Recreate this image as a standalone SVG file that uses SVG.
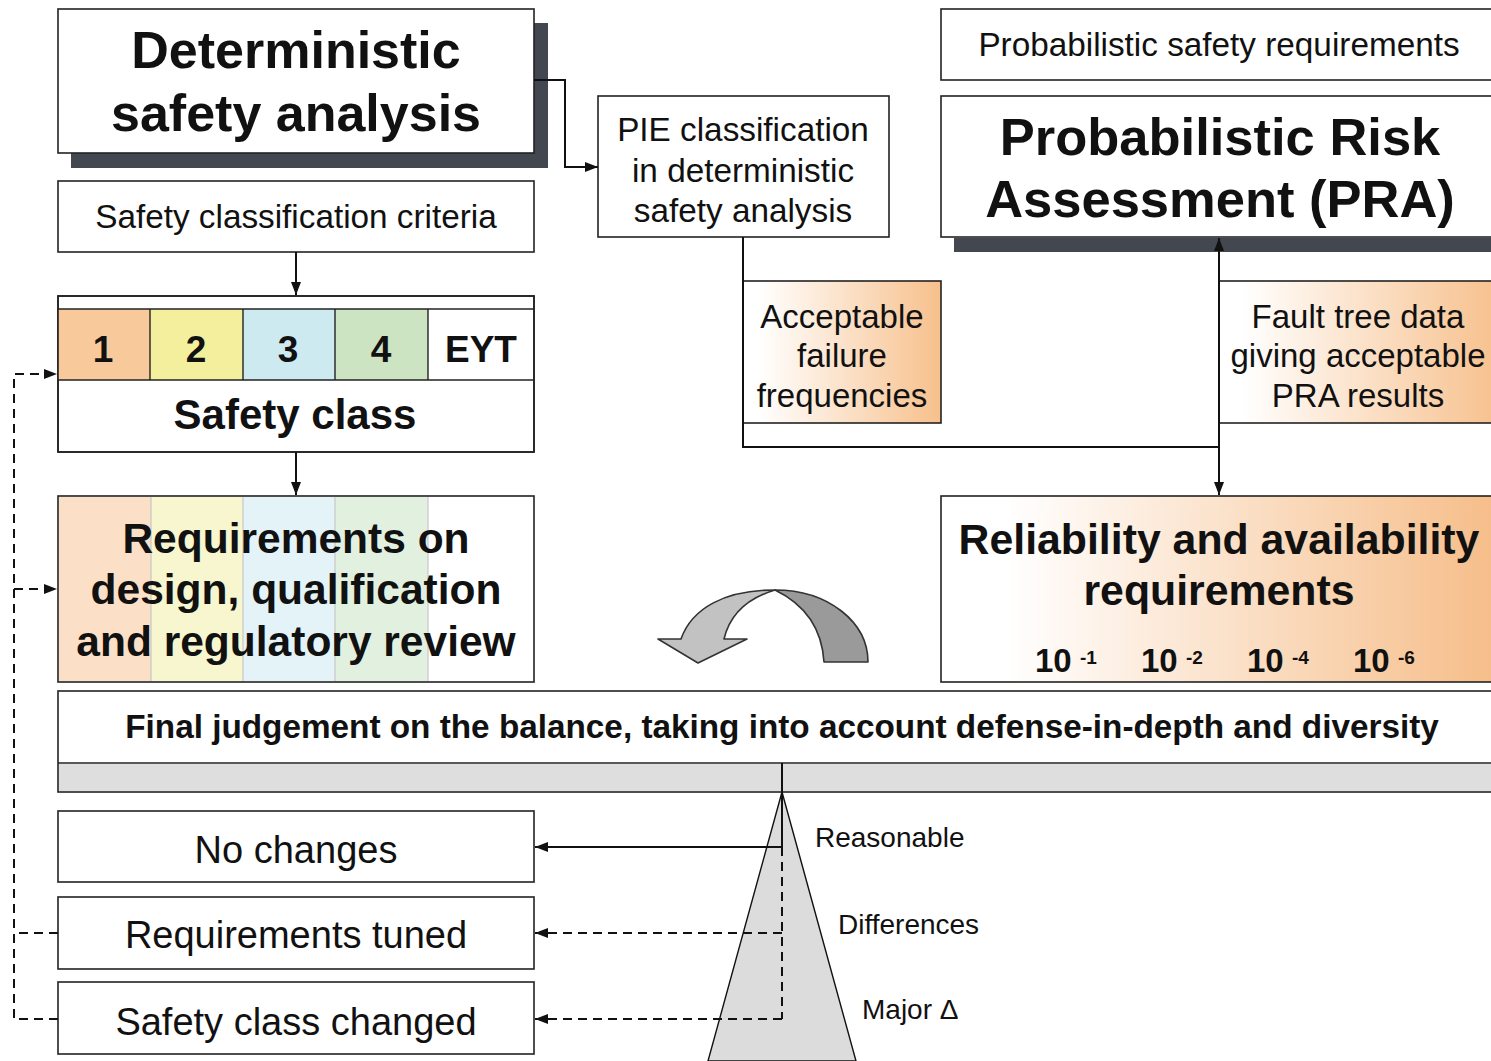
<svg xmlns="http://www.w3.org/2000/svg" width="1491" height="1061" viewBox="0 0 1491 1061">
<defs>
<style>
.box{fill:#fff;stroke:#222;stroke-width:1.6}
.gbox{stroke:#222;stroke-width:1.6}
.t{font-family:"Liberation Sans",Arial,sans-serif;fill:#111;text-anchor:middle}
.s{text-anchor:start}
.b{font-weight:bold}
.ln{fill:none;stroke:#111;stroke-width:2}
.dash{stroke-dasharray:9,6}
.shadow{fill:#434850}
.sep{stroke:#222;stroke-width:1.4}
.lsep{stroke:#c8c8c8;stroke-width:1.2}
</style>
<linearGradient id="gOr" x1="0" y1="0" x2="1" y2="0">
<stop offset="0" stop-color="#ffffff"/><stop offset="0.08" stop-color="#ffffff"/><stop offset="1" stop-color="#F7C08C"/>
</linearGradient>
<linearGradient id="gRel" x1="941" y1="0" x2="1491" y2="0" gradientUnits="userSpaceOnUse">
<stop offset="0" stop-color="#ffffff"/><stop offset="0.12" stop-color="#ffffff"/><stop offset="1" stop-color="#F6BE8A"/>
</linearGradient>
<marker id="ah" viewBox="0 0 13 10" refX="13" refY="5" markerWidth="13" markerHeight="10" markerUnits="userSpaceOnUse" orient="auto">
<path d="M0,0 L13,5 L0,10 z" fill="#111"/>
</marker>
</defs>
<rect width="1491" height="1061" fill="#fff"/>

<g id="deterministic">
<rect class="shadow" x="71" y="23" width="477" height="145"/>
<rect class="box" x="58" y="9" width="476" height="144"/>
<text class="t b" x="296" y="68" font-size="52">Deterministic</text>
<text class="t b" x="296" y="131" font-size="52">safety analysis</text>
</g>

<g id="criteria">
<rect class="box" x="58" y="181" width="476" height="71"/>
<text class="t" x="296" y="228" font-size="33.3">Safety classification criteria</text>
</g>

<g id="safety-class">
<rect class="box" x="58" y="296" width="476" height="156"/>
<rect x="58" y="309" width="92" height="71" fill="#F8C99A"/>
<rect x="150" y="309" width="93" height="71" fill="#F3EF9C"/>
<rect x="243" y="309" width="92" height="71" fill="#CDEAF0"/>
<rect x="335" y="309" width="93" height="71" fill="#CCE4C2"/>
<line class="sep" x1="58" y1="309" x2="534" y2="309"/>
<line class="sep" x1="58" y1="380" x2="534" y2="380"/>
<line class="sep" x1="150" y1="309" x2="150" y2="380"/>
<line class="sep" x1="243" y1="309" x2="243" y2="380"/>
<line class="sep" x1="335" y1="309" x2="335" y2="380"/>
<line class="sep" x1="428" y1="309" x2="428" y2="380"/>
<rect x="58" y="296" width="476" height="156" fill="none" stroke="#222" stroke-width="1.6"/>
<text class="t b" x="103" y="362" font-size="37">1</text>
<text class="t b" x="196" y="362" font-size="37">2</text>
<text class="t b" x="288" y="362" font-size="37">3</text>
<text class="t b" x="381" y="362" font-size="37">4</text>
<text class="t b" x="481" y="362" font-size="37">EYT</text>
<text class="t b" x="295" y="429" font-size="42">Safety class</text>
</g>

<g id="requirements">
<rect class="box" x="58" y="496" width="476" height="186"/>
<rect x="59" y="497" width="92" height="184" fill="#FBDFC6"/>
<rect x="151" y="497" width="92" height="184" fill="#F7F6CE"/>
<rect x="243" y="497" width="92" height="184" fill="#E3F3F8"/>
<rect x="335" y="497" width="93" height="184" fill="#E2F0DF"/>
<line class="lsep" x1="151" y1="497" x2="151" y2="681"/>
<line class="lsep" x1="243" y1="497" x2="243" y2="681"/>
<line class="lsep" x1="335" y1="497" x2="335" y2="681"/>
<line class="lsep" x1="428" y1="497" x2="428" y2="681"/>
<text class="t b" x="296" y="553" font-size="42.5">Requirements on</text>
<text class="t b" x="296" y="604" font-size="42.5">design, qualification</text>
<text class="t b" x="296" y="656" font-size="42.5">and regulatory review</text>
</g>

<g id="pie">
<rect class="box" x="598" y="96" width="291" height="141"/>
<text class="t" x="743" y="141" font-size="33.3">PIE classification</text>
<text class="t" x="743" y="182" font-size="33.3">in deterministic</text>
<text class="t" x="743" y="222" font-size="33.3">safety analysis</text>
</g>

<g id="prob-req">
<rect class="box" x="941" y="9" width="560" height="71"/>
<text class="t" x="1219" y="56" font-size="33.3">Probabilistic safety requirements</text>
</g>

<g id="pra">
<rect class="shadow" x="954" y="238" width="545" height="14"/>
<rect class="box" x="941" y="96" width="560" height="141"/>
<text class="t b" x="1220" y="155" font-size="52.5">Probabilistic Risk</text>
<text class="t b" x="1220" y="217" font-size="52.5">Assessment (PRA)</text>
</g>

<g id="acceptable">
<rect class="gbox" x="743" y="281" width="198" height="142" fill="url(#gOr)"/>
<text class="t" x="842" y="328" font-size="33">Acceptable</text>
<text class="t" x="842" y="367" font-size="33">failure</text>
<text class="t" x="842" y="407" font-size="33">frequencies</text>
</g>

<g id="fault-tree">
<rect class="gbox" x="1219" y="281" width="282" height="142" fill="url(#gOr)"/>
<text class="t" x="1358" y="328" font-size="33">Fault tree data</text>
<text class="t" x="1358" y="367" font-size="33">giving acceptable</text>
<text class="t" x="1358" y="407" font-size="33">PRA results</text>
</g>

<g id="reliability">
<rect class="gbox" x="941" y="496" width="560" height="186" fill="url(#gRel)"/>
<text class="t b" x="1219" y="554" font-size="42.8">Reliability and availability</text>
<text class="t b" x="1219" y="605" font-size="42.8">requirements</text>
<text class="t b s" x="1035" y="672" font-size="33">10</text>
<text class="t b s" x="1080" y="664" font-size="19">-1</text>
<text class="t b s" x="1141" y="672" font-size="33">10</text>
<text class="t b s" x="1186" y="664" font-size="19">-2</text>
<text class="t b s" x="1247" y="672" font-size="33">10</text>
<text class="t b s" x="1292" y="664" font-size="19">-4</text>
<text class="t b s" x="1353" y="672" font-size="33">10</text>
<text class="t b s" x="1398" y="664" font-size="19">-6</text>
</g>

<g id="turn-arrow" stroke="#333" stroke-width="1.6" stroke-linejoin="round">
<path d="M775,590 C828,590 868,622 868,662 L824,662 C822,630 806,605 775,590 Z" fill="#9A9A9A"/>
<path d="M658,639 L681,639 C692,608 725,590 775,590 C748,598 730,614 724,639 L747,639 L698,663 Z" fill="#C2C2C2"/>
</g>

<g id="final-judgement">
<rect class="box" x="58" y="691" width="1443" height="101"/>
<rect x="59" y="764" width="1441" height="27" fill="#DEDEDE"/>
<line class="sep" x1="58" y1="763" x2="1501" y2="763"/>
<text class="t b" x="782" y="738" font-size="33.3">Final judgement on the balance, taking into account defense-in-depth and diversity</text>
</g>

<g id="fulcrum">
<path d="M782,792 L856,1061 L708,1061 Z" fill="#DCDCDC" stroke="#111" stroke-width="1.4"/>
<text class="t s" x="815" y="847" font-size="28">Reasonable</text>
<text class="t s" x="838" y="934" font-size="28">Differences</text>
<text class="t s" x="862" y="1019" font-size="28">Major Δ</text>
</g>

<g id="no-changes">
<rect class="box" x="58" y="811" width="476" height="71"/>
<text class="t" x="296" y="863" font-size="38">No changes</text>
</g>

<g id="req-tuned">
<rect class="box" x="58" y="897" width="476" height="72"/>
<text class="t" x="296" y="948" font-size="38">Requirements tuned</text>
</g>

<g id="class-changed">
<rect class="box" x="58" y="982" width="476" height="72"/>
<text class="t" x="296" y="1035" font-size="38">Safety class changed</text>
</g>

<g id="connectors">
<path class="ln" d="M534,80 H565 V167 H598" marker-end="url(#ah)"/>
<path class="ln" d="M296,252 V295" marker-end="url(#ah)"/>
<path class="ln" d="M296,452 V495" marker-end="url(#ah)"/>
<path class="ln" d="M743,237 V447 H1219"/>
<path class="ln" d="M1219,447 V238" marker-end="url(#ah)"/>
<path class="ln" d="M1219,447 V495" marker-end="url(#ah)"/>
<path class="ln" d="M782,763 V847 H535" marker-end="url(#ah)"/>
<path class="ln dash" d="M782,847 V1019"/>
<path class="ln dash" d="M782,933 H535" marker-end="url(#ah)"/>
<path class="ln dash" d="M782,1019 H535" marker-end="url(#ah)"/>
<path class="ln dash" d="M58,933 H14"/>
<path class="ln dash" d="M58,1019 H14 V374 H57" marker-end="url(#ah)"/>
<path class="ln dash" d="M14,589 H57" marker-end="url(#ah)"/>
</g>
</svg>
